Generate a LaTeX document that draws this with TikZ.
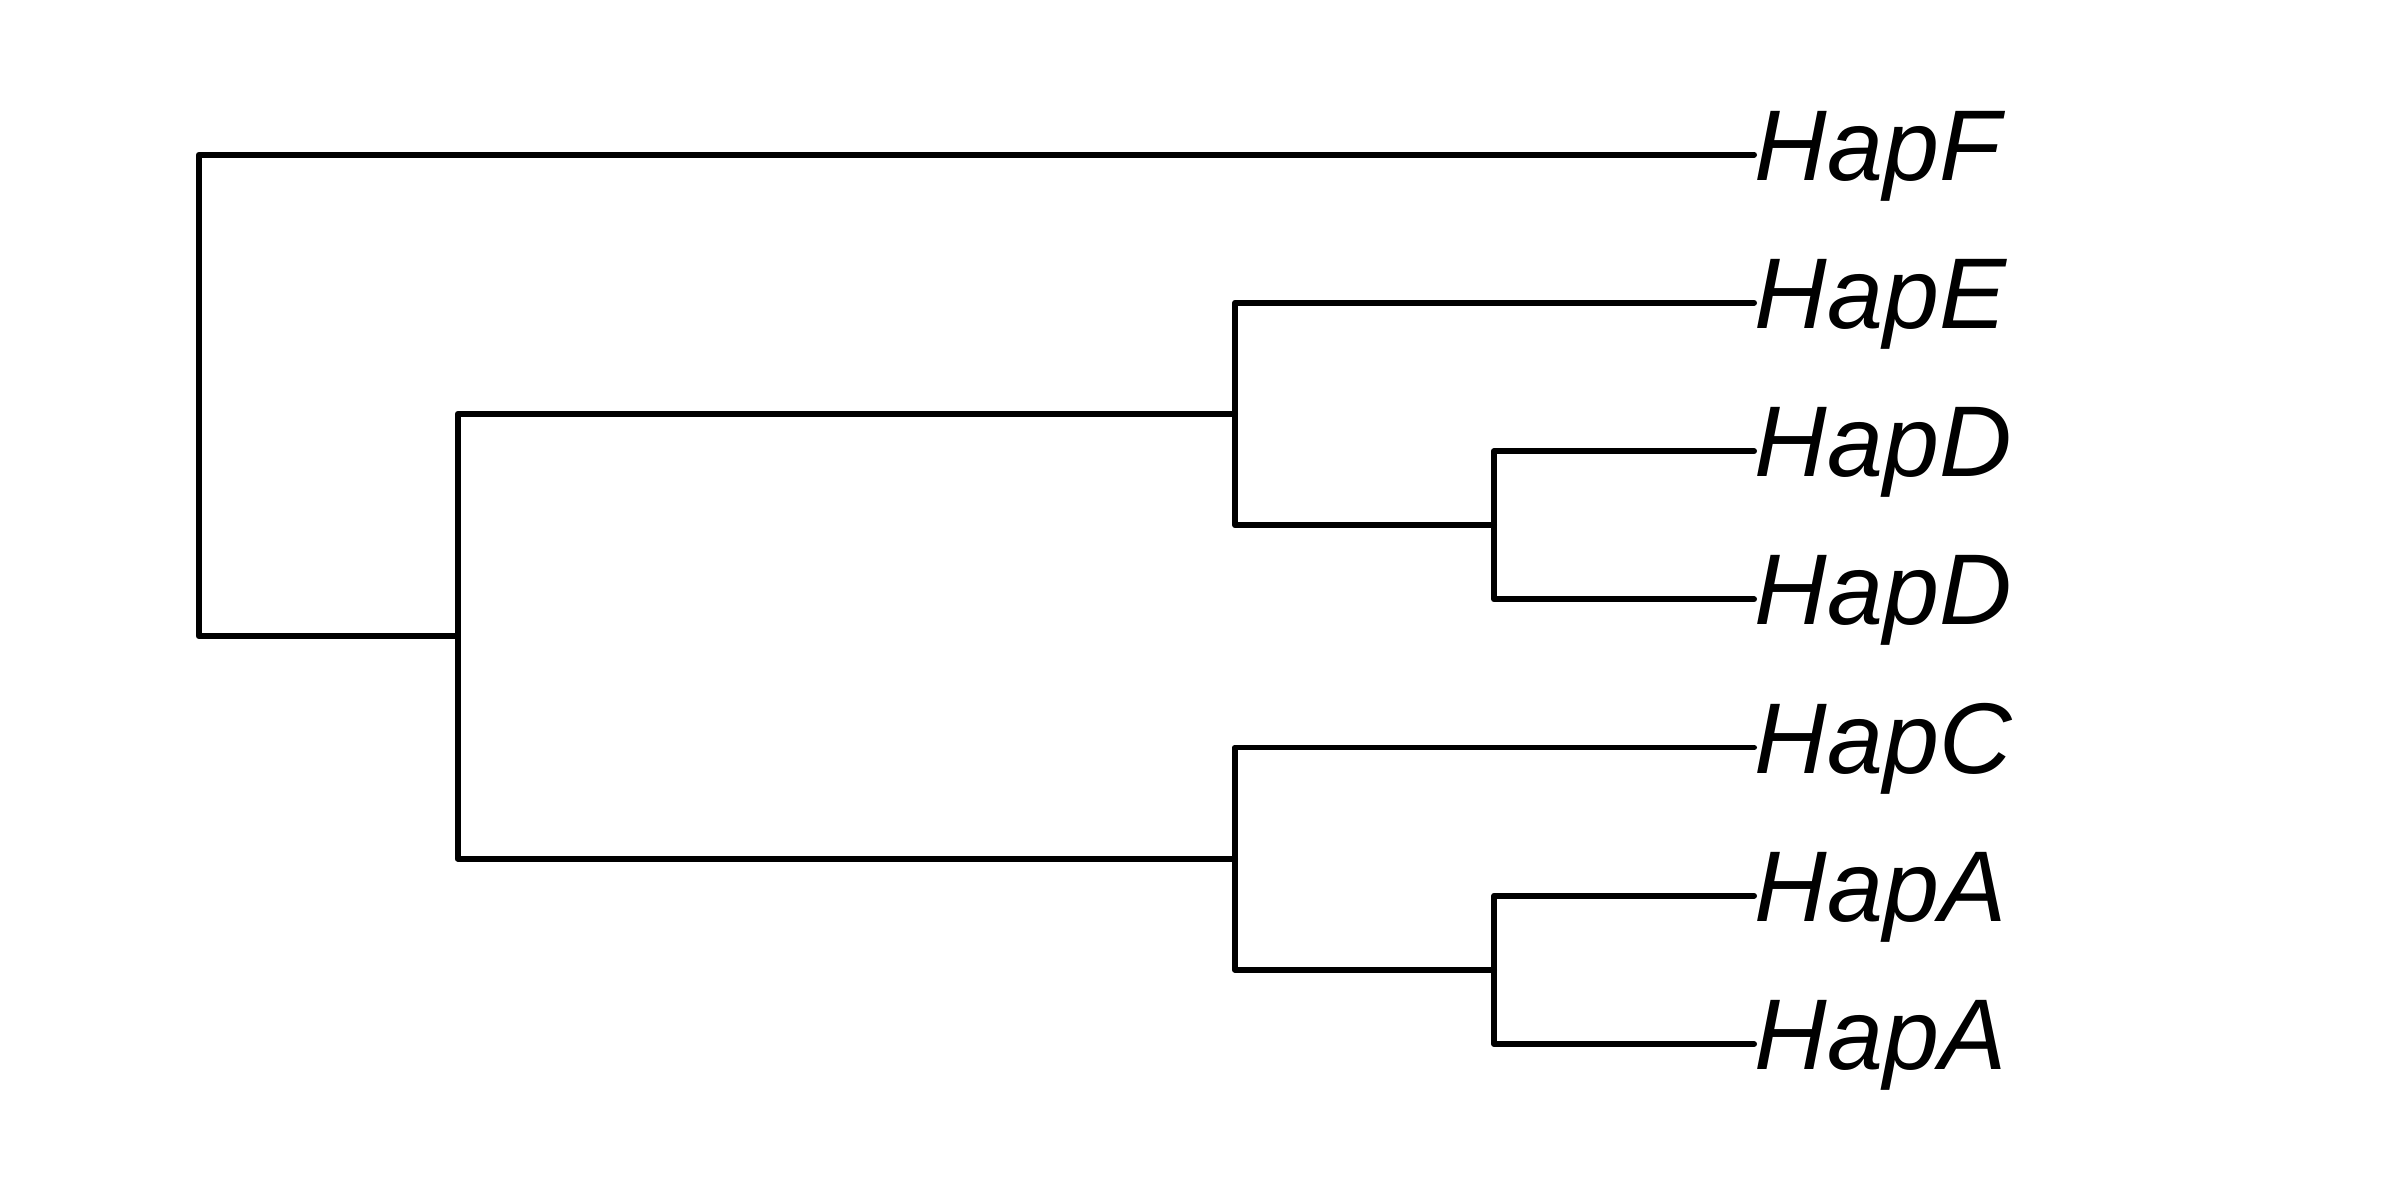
\documentclass[tikz,border=0pt]{standalone}
\usepackage{fontspec}
\setmainfont{Liberation Sans}
\begin{document}
\begin{tikzpicture}[
  branch/.style={line width=1.7pt, line cap=round, line join=round, black},
  tiplabel/.style={anchor=base west, inner sep=0pt, font=\fontsize{28.6}{34}\selectfont\itshape}
]
\useasboundingbox (0,0) rectangle (24,12);
% tips
\coordinate (tF) at (17.54,10.454);
\coordinate (tE) at (17.54,8.972);
\coordinate (tD1) at (17.54,7.489);
\coordinate (tD2) at (17.54,6.007);
\coordinate (tC) at (17.54,4.525);
\coordinate (tA1) at (17.54,3.042);
\coordinate (tA2) at (17.54,1.560);
% internal nodes
\coordinate (nD) at (14.94,6.748);
\coordinate (nA) at (14.94,2.301);
\coordinate (nED) at (12.35,7.860);
\coordinate (nCA) at (12.35,3.413);
\coordinate (n2) at (4.577,5.637);
\coordinate (root) at (1.99,8.046);
% labels
\node[tiplabel] (lF) at ([xshift=0pt,yshift=-0.255cm]tF) {HapF};
\node[tiplabel] (lE) at ([xshift=0pt,yshift=-0.255cm]tE) {HapE};
\node[tiplabel] (lD1) at ([xshift=0pt,yshift=-0.255cm]tD1) {HapD};
\node[tiplabel] (lD2) at ([xshift=0pt,yshift=-0.255cm]tD2) {HapD};
\node[tiplabel] (lC) at ([xshift=0pt,yshift=-0.255cm]tC) {HapC};
\node[tiplabel] (lA1) at ([xshift=0pt,yshift=-0.255cm]tA1) {HapA};
\node[tiplabel] (lA2) at ([xshift=0pt,yshift=-0.255cm]tA2) {HapA};
% branches
\draw[branch] (tD1) -| (nD) |- (tD2);
\draw[branch] (tA1) -| (nA) |- (tA2);
\draw[branch] (tE) -| (nED) |- (nD);
\draw[branch] (tC) -| (nCA) |- (nA);
\draw[branch] (nED) -| (n2) |- (nCA);
\draw[branch] (tF) -| (root) |- (n2);
\end{tikzpicture}
\end{document}
